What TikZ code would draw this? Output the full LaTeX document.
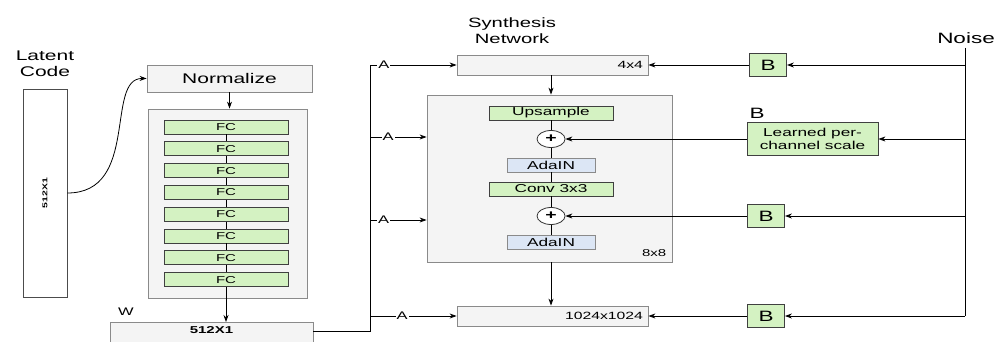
\documentclass[tikz,border=0pt]{standalone}
\usepackage{fontspec}
\setmainfont{Liberation Sans}[FakeStretch=1.5]
\usetikzlibrary{arrows.meta,shapes.geometric}
\definecolor{fcgreen}{HTML}{D4F2C2}
\definecolor{adablue}{HTML}{DCE6F5}
\definecolor{boxgray}{HTML}{F4F4F4}
\definecolor{edgegray}{HTML}{8A8A8A}

\begin{document}
\begin{tikzpicture}[x=1pt, y=-1pt, >={Stealth[length=7pt,width=5pt]}, line width=0.8pt,
    graybox/.style={draw=edgegray, fill=boxgray, inner sep=0pt},
    fcbox/.style={draw=black!75, fill=fcgreen, minimum width=124, minimum height=14, inner sep=0pt, font=\fontsize{10}{11}\selectfont},
    greenbox/.style={fcbox, font=\fontsize{11.5}{12}\selectfont},
    adabox/.style={draw=edgegray, fill=adablue, minimum width=88, minimum height=14, inner sep=0pt, font=\fontsize{11.5}{12}\selectfont},
    resbox/.style={graybox, text width=181pt, inner xsep=5pt, align=right, minimum height=20, font=\fontsize{10.5}{11}\selectfont},
    bbox/.style={draw=black!75, fill=fcgreen, minimum width=37, minimum height=23, inner sep=0pt, font=\fontsize{15}{16}\selectfont},
    addnode/.style={draw=black!80, fill=white, ellipse, minimum width=28, minimum height=17, inner sep=0pt, font=\bfseries\fontsize{13}{13}\selectfont},
    aval/.style={fill=white, inner sep=1pt, font=\fontsize{11}{12}\selectfont},
    heading/.style={align=center, font=\fontsize{13.5}{16}\selectfont}]
  \useasboundingbox (0,0) rectangle (998,342);

  % mapping network
  \node[heading, font=\fontsize{14}{16}\selectfont] (latenthd) at (45,64) {Latent\\Code};
  \node[draw=black!70, fill=white, minimum width=44, minimum height=208] (latent) at (45,193) {};
  \node[rotate=90, font=\bfseries\fontsize{7}{8}\selectfont] (latenttxt) at (latent) {512X1};
  \node[graybox, minimum width=165, minimum height=27, font=\fontsize{14}{15}\selectfont] (norm) at (229.5,78.5) {Normalize};
  \node[graybox, minimum width=159, minimum height=189] (mapnet) at (227.5,203.5) {};
  \foreach \i in {0,...,7} {
    \node[fcbox] (fc\i) at (226,{127+21.8*\i}) {FC};
  }
  \foreach \i [count=\j from 1] in {0,...,6} {
    \draw (fc\i.south) -- (fc\j.north);
  }
  \draw[->] (latent.east) .. controls (140,193) and (105,78) .. (norm.west);
  \draw[->] (norm.south) -- (norm.south |- mapnet.north);
  \node[graybox, anchor=north, minimum width=203, text height=8pt, text depth=26pt, inner ysep=3pt, font=\bfseries\fontsize{10}{11}\selectfont] (wvec) at (211.5,322) {512X1};
  \draw[->] (fc7.south) -- (fc7.south |- wvec.north);
  \node[font=\fontsize{11}{12}\selectfont] (wlbl) at (126,312) {W};

  % style bus
  \coordinate (wout) at (313,331);
  \coordinate (busbot) at (370,331);
  \coordinate (a1) at (370,65);
  \coordinate (a2) at (370,137);
  \coordinate (a3) at (370,220);
  \coordinate (a4) at (370,316);
  \draw (wout) -- (busbot) -- (a1);

  % synthesis network
  \node[heading] (synthhd) at (512,31) {Synthesis\\Network};
  \node[resbox] (s4) at (552.5,65) {4x4};
  \node[graybox, minimum width=245, minimum height=167] (synth) at (549.5,178.5) {};
  \node[anchor=south east, font=\fontsize{10}{11}\selectfont] (res8) at (670,260) {8x8};
  \node[greenbox] (upsmp) at (551,113) {Upsample};
  \node[addnode] (add1) at (551,139) {+};
  \node[adabox] (ada1) at (551,165) {AdaIN};
  \node[greenbox] (conv) at (551,189) {Conv 3x3};
  \node[addnode] (add2) at (551,216) {+};
  \node[adabox] (ada2) at (551,242) {AdaIN};
  \draw (upsmp) -- (add1) -- (ada1) -- (conv) -- (add2) -- (ada2);
  \node[resbox] (s1024) at (552.5,316) {1024x1024};
  \draw[->] (s4.south -| upsmp) -- (synth.north -| upsmp);
  \draw[->] (synth.south -| upsmp) -- (s1024.north -| upsmp);

  \draw[->] (a1) -- node[aval, pos=.16] {A} (s4.west);
  \draw[->] (a2) -- node[aval, pos=.32] {A} (synth.west |- a2);
  \draw[->] (a3) -- node[aval, pos=.24] {A} (synth.west |- a3);
  \draw[->] (a4) -- node[aval, pos=.37] {A} (s1024.west);

  % noise inputs
  \node[font=\fontsize{15}{16}\selectfont] (noise) at (966,38) {Noise};
  \coordinate (ntop) at (965,48);
  \coordinate (n1) at (965,65);
  \coordinate (n2) at (965,139);
  \coordinate (n3) at (965,216);
  \coordinate (n4) at (965,316);
  \draw (ntop) -- (n4);
  \node[bbox] (b1) at (768,65) {B};
  \node[draw=black!75, fill=fcgreen, minimum width=131, minimum height=33, inner sep=0pt, align=center, font=\fontsize{11.5}{13}\selectfont] (learned) at (812.5,139) {Learned per-\\channel scale};
  \node[font=\fontsize{15}{16}\selectfont] (blbl) at (757,113) {B};
  \node[bbox] (b3) at (766,216) {B};
  \node[bbox] (b4) at (766,316) {B};
  \draw[->] (n1) -- (b1);
  \draw[->] (n2) -- (learned);
  \draw[->] (n3) -- (b3);
  \draw[->] (n4) -- (b4);
  \draw[->] (b1) -- (s4);
  \draw[->] (learned) -- (add1);
  \draw[->] (b3) -- (add2);
  \draw[->] (b4) -- (s1024);
\end{tikzpicture}
\end{document}
